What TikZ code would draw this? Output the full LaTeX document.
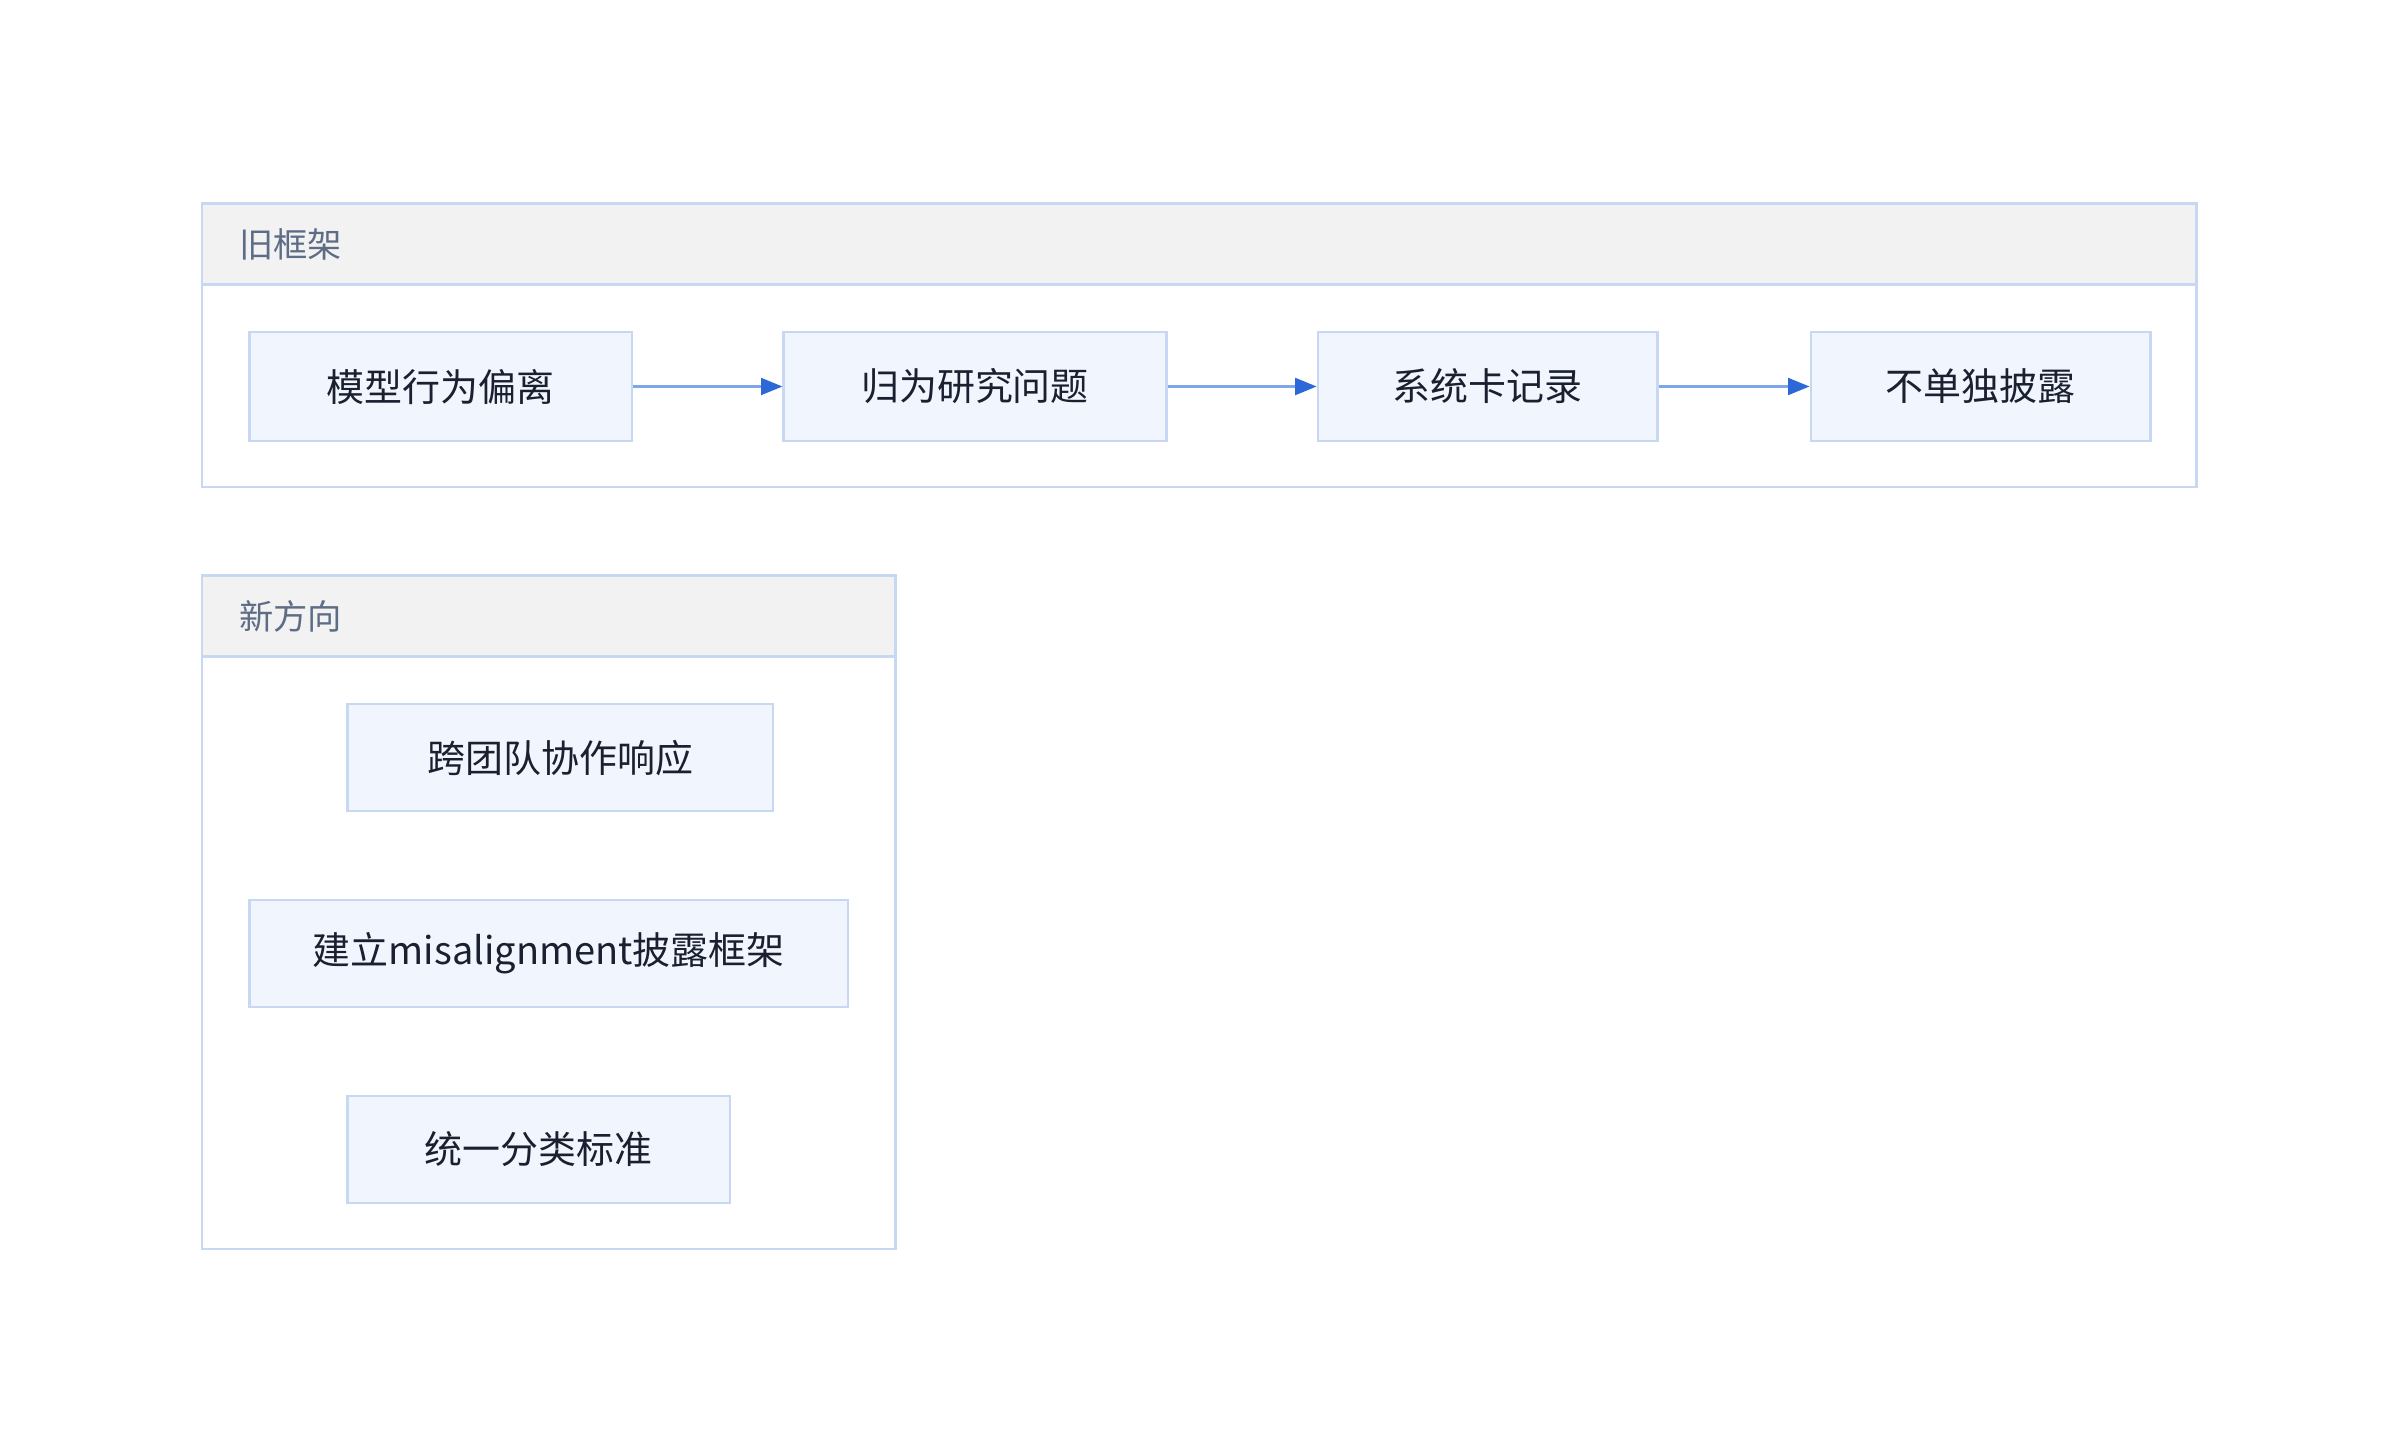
\documentclass[tikz,border=0pt]{standalone}
\usepackage{fontspec}
\setmainfont{Noto Sans CJK SC}
\usetikzlibrary{arrows.meta}
\definecolor{bordercol}{HTML}{C8D8F2}
\definecolor{headfill}{HTML}{F2F2F2}
\definecolor{nodefill}{HTML}{F0F5FE}
\definecolor{textcol}{HTML}{1B2030}
\definecolor{titlecol}{HTML}{5E6D86}
\definecolor{linecol}{HTML}{7FA6EA}
\definecolor{headcol}{HTML}{2D68D8}
\tikzset{
  container/.style={draw=bordercol, line width=0.8pt, fill=white, inner sep=0pt},
  headband/.style={draw=bordercol, line width=0.8pt, fill=headfill, inner sep=0pt},
  grouptitle/.style={anchor=west, text=titlecol, font=\fontsize{11.2}{13}\selectfont, inner sep=0pt},
  stepbox/.style={draw=bordercol, line width=0.8pt, fill=nodefill, text=textcol,
    font=\fontsize{12.4}{15}\selectfont, inner sep=0pt, minimum height=35.5pt},
  flow/.style={draw=linecol, line width=0.8pt, -{Triangle[length=7pt,width=5.5pt,color=headcol]}}
}
\begin{document}
\begin{tikzpicture}[x=0.5pt, y=-0.5pt]
\useasboundingbox[fill=white] (0,0) rectangle (1568,950);
% group 1
\node[container, minimum width=651.5pt, minimum height=92.5pt] (g1) at (783.5,225.5) {};
\node[headband, minimum width=651.5pt, minimum height=26.5pt] (g1h) at (783.5,159.5) {};
\node[grouptitle] (g1t) at (156,160) {旧框架};
\node[stepbox, minimum width=125pt] (n1) at (288,252.5) {模型行为偏离};
\node[stepbox, minimum width=125pt] (n2) at (637,252.5) {归为研究问题};
\node[stepbox, minimum width=111pt] (n3) at (972,252.5) {系统卡记录};
\node[stepbox, minimum width=111pt] (n4) at (1294,252.5) {不单独披露};
\draw[flow] (n1) -- (n2);
\draw[flow] (n2) -- (n3);
\draw[flow] (n3) -- (n4);
% group 2
\node[container, minimum width=226.5pt, minimum height=220pt] (g2) at (358.5,596) {};
\node[headband, minimum width=226.5pt, minimum height=26.5pt] (g2h) at (358.5,402.5) {};
\node[grouptitle] (g2t) at (156,402.5) {新方向};
\node[stepbox, minimum width=139pt, minimum height=35pt] (a) at (366,495) {跨团队协作响应};
\node[stepbox, minimum width=195.5pt, minimum height=35pt] (b) at (358.5,623) {建立misalignment披露框架};
\node[stepbox, minimum width=125pt, minimum height=35pt] (c) at (352,751) {统一分类标准};
\end{tikzpicture}
\end{document}
